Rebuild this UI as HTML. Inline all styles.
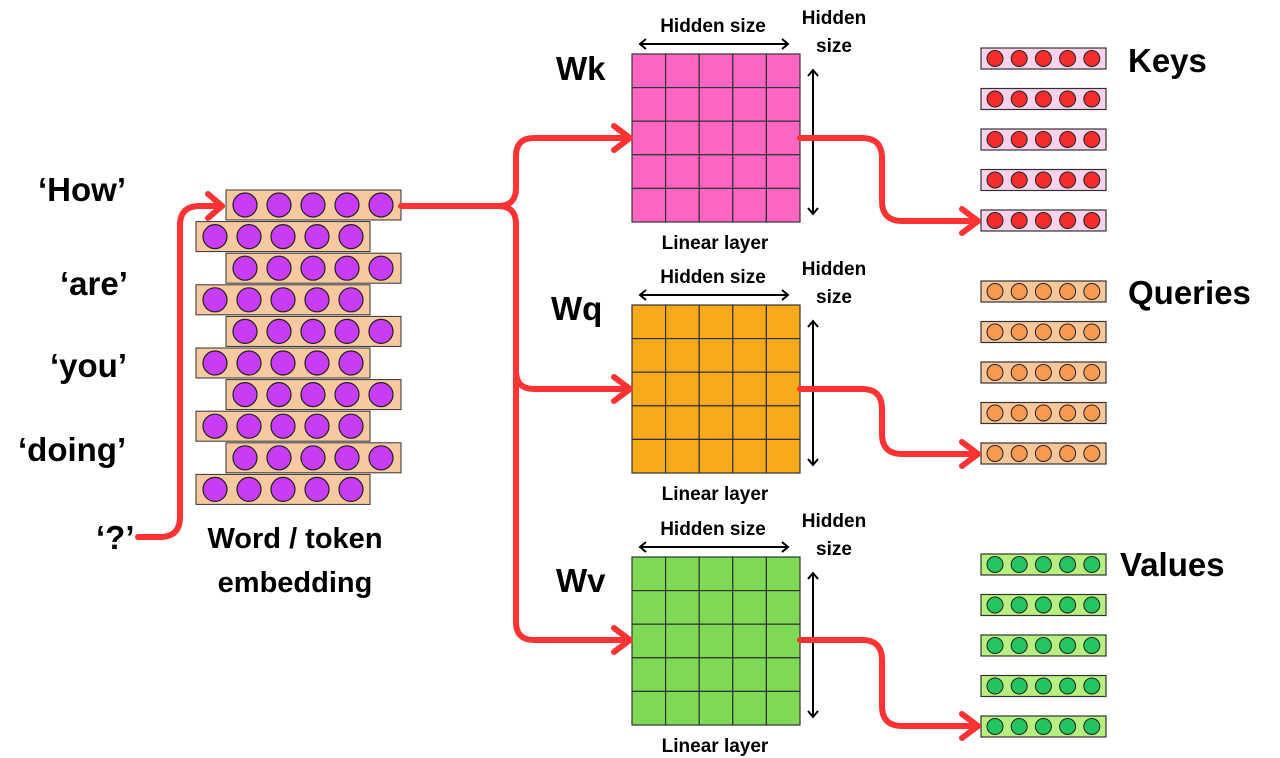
<!DOCTYPE html>
<html><head><meta charset="utf-8"><style>
body{margin:0;background:#fff;}
svg{display:block}
text{font-family:"Liberation Sans",sans-serif;font-weight:bold;fill:#000}
</style></head><body>
<svg id="s" width="1280" height="758" viewBox="0 0 1280 758" xmlns="http://www.w3.org/2000/svg">
<g id="g"></g>
<g fill="none" stroke="#f33" stroke-width="6" stroke-linecap="round" stroke-linejoin="round">
<path d="M138 537 H160 Q180 537 180 517 V225 Q180 206 200 206 H222"/>
<path d="M208 194 L222 206 L208 218"/>
<path d="M401 206 H498 Q516 206 516 188 V156 Q516 138 534 138 H630"/>
<path d="M614 126 L630 138 L614 150"/>
<path d="M498 206 Q516 206 516 224 V371 Q516 389 534 389 H630"/>
<path d="M614 377 L630 389 L614 401"/>
<path d="M516 371 V622 Q516 640 534 640 H630"/>
<path d="M614 628 L630 640 L614 652"/>
<path d="M800 138 H862 Q882 138 882 158 V201 Q882 221 902 221 H978"/>
<path d="M962 209 L978 221 L962 233"/>
<path d="M800 389 H862 Q882 389 882 409 V434 Q882 454 902 454 H978"/>
<path d="M962 442 L978 454 L962 466"/>
<path d="M800 640 H862 Q882 640 882 660 V706 Q882 726 902 726 H978"/>
<path d="M962 714 L978 726 L962 738"/>
</g>
<g font-size="33">
<text x="38" y="201">‘How’</text>
<text x="60" y="295">‘are’</text>
<text x="50" y="377">‘you’</text>
<text x="18" y="461">‘doing’</text>
<text x="96" y="549">‘?’</text>
<text x="556" y="80">Wk</text>
<text x="551" y="320">Wq</text>
<text x="556" y="592">Wv</text>
<text x="1128" y="72">Keys</text>
<text x="1128" y="304">Queries</text>
<text x="1120" y="576">Values</text>
</g>
<g font-size="29" text-anchor="middle">
<text x="295" y="548">Word / token</text>
<text x="295" y="592">embedding</text>
</g>
<g font-size="19" text-anchor="middle" id="lbl"></g>
</svg>
<script>
const g=document.getElementById('g'),L=document.getElementById('lbl');
let h='';
for(let i=0;i<10;i++){const y=190+i*31.6,x=i%2==0?226:196,w=i%2==0?175:174;
h+=`<rect x="${x}" y="${y}" width="${w}" height="30" fill="#f6c9a0" stroke="#333" stroke-width="1"/>`;
for(let j=0;j<5;j++)h+=`<circle cx="${x+19+j*34}" cy="${y+15}" r="12" fill="#c83cf5" stroke="#222" stroke-width="1.2"/>`;}
const M=[[54,'#ff66c4'],[305,'#f8aa1c'],[557,'#7ed957']];
const V=[[48,'#f9d3ec','#f52d2d'],[281,'#f8c89a','#f99a50'],[554,'#b8f080','#22c55e']];
let lb='';
M.forEach(([y0,c],k)=>{
for(let r=0;r<5;r++)for(let q=0;q<5;q++)h+=`<rect x="${632+q*33.6}" y="${y0+r*33.6}" width="33.6" height="33.6" fill="${c}" stroke="#333" stroke-width="1.2"/>`;
h+=`<g stroke="#000" stroke-width="2" fill="none"><path d="M640 ${y0-10} H788 M646 ${y0-15} L640 ${y0-10} L646 ${y0-5} M782 ${y0-15} L788 ${y0-10} L782 ${y0-5} M813 ${y0+16} V${y0+160} M808 ${y0+22} L813 ${y0+16} L818 ${y0+22} M808 ${y0+154} L813 ${y0+160} L818 ${y0+154}"/></g>`;
lb+=`<text x="713" y="${y0-22}">Hidden size</text><text x="834" y="${y0-30}">Hidden</text><text x="834" y="${y0-2}">size</text><text x="715" y="${y0+195}">Linear layer</text>`;
const [vy,bf,cf]=V[k];
for(let i=0;i<5;i++){const y=vy+i*40.5;
h+=`<rect x="981" y="${y}" width="125" height="21" fill="${bf}" stroke="#333" stroke-width="1.2"/>`;
for(let j=0;j<5;j++)h+=`<circle cx="${995+j*24.2}" cy="${y+10.5}" r="8" fill="${cf}" stroke="#222" stroke-width="1"/>`;}
});
g.innerHTML=h;L.innerHTML=lb;
</script>
</body></html>
